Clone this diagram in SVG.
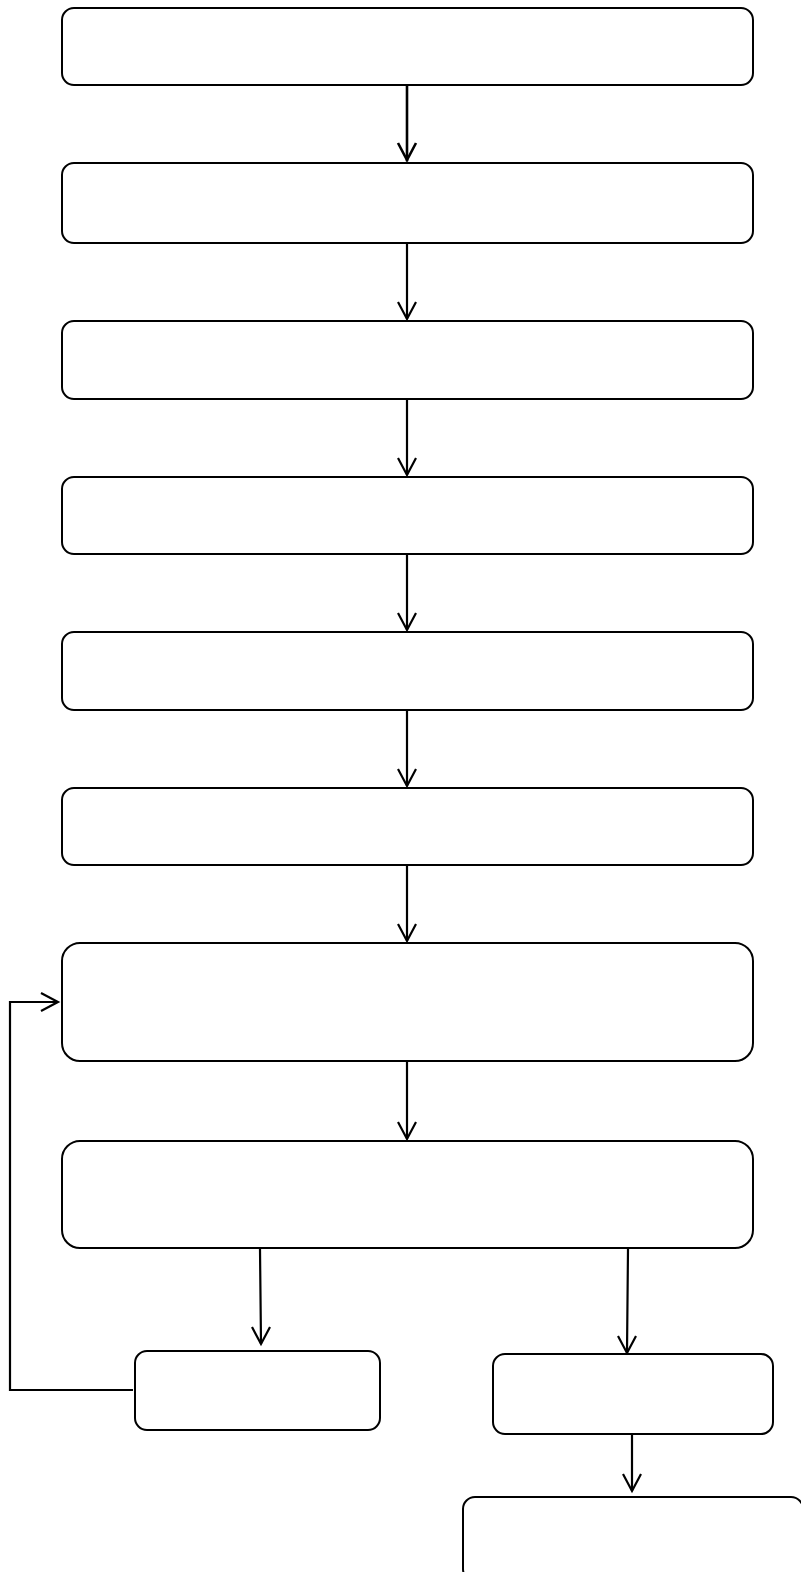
<svg xmlns="http://www.w3.org/2000/svg" width="801" height="1572" viewBox="0 0 801 1572">
<style>
.n{fill:#fff;stroke:#000;stroke-width:2}
.c{fill:none;stroke:#000;stroke-width:2.2;stroke-linecap:square}
.h{fill:none;stroke:#000;stroke-width:2.2;stroke-linejoin:miter}
</style>
<rect width="801" height="1572" fill="#fff"/>
<g id="n1"><rect class="n" x="62" y="8" width="691" height="77" rx="12"/></g>
<g id="n2"><rect class="n" x="62" y="163" width="691" height="80" rx="12"/></g>
<g id="n3"><rect class="n" x="62" y="321" width="691" height="78" rx="12"/></g>
<g id="n4"><rect class="n" x="62" y="477" width="691" height="77" rx="12"/></g>
<g id="n5"><rect class="n" x="62" y="632" width="691" height="78" rx="12"/></g>
<g id="n6"><rect class="n" x="62" y="788" width="691" height="77" rx="12"/></g>
<g id="n7"><rect class="n" x="62" y="943" width="691" height="118" rx="18"/></g>
<g id="n8"><rect class="n" x="62" y="1141" width="691" height="107" rx="18"/></g>
<g id="n9"><rect class="n" x="135" y="1351" width="245" height="79" rx="12"/></g>
<g id="n10"><rect class="n" x="493" y="1354" width="280" height="80" rx="12"/></g>
<g id="n11"><rect class="n" x="463" y="1497" width="340" height="84" rx="12"/></g>
<g id="connectors">
<path class="c" d="M407,86 L407,160" style="stroke-width:2.6"/>
<path class="h" d="M398,143 L407,160 L416,143" style="stroke-width:2.6"/>
<path class="c" d="M407,244 L407,318"/>
<path class="h" d="M398,302 L407,319 L416,302"/>
<path class="c" d="M407,400 L407,474"/>
<path class="h" d="M398,458 L407,475 L416,458"/>
<path class="c" d="M407,555 L407,629"/>
<path class="h" d="M398,613 L407,630 L416,613"/>
<path class="c" d="M407,711 L407,785"/>
<path class="h" d="M398,769 L407,786 L416,769"/>
<path class="c" d="M407,866 L407,940"/>
<path class="h" d="M398,924 L407,941 L416,924"/>
<path class="c" d="M407,1062 L407,1138"/>
<path class="h" d="M398,1122 L407,1139 L416,1122"/>
<path class="c" d="M260,1249 L261,1343"/>
<path class="h" d="M252,1327 L261,1344 L270,1327"/>
<path class="c" d="M628,1249 L627,1352"/>
<path class="h" d="M618,1336 L627,1353 L636,1336"/>
<path class="c" d="M632,1435 L632,1490"/>
<path class="h" d="M623,1474 L632,1491 L641,1474"/>
<path class="c" d="M133,1390 L10,1390 L10,1002 L57,1002" style="stroke-linecap:butt"/>
<path class="h" d="M41,993 L58,1002 L41,1011"/>
</g>
</svg>
